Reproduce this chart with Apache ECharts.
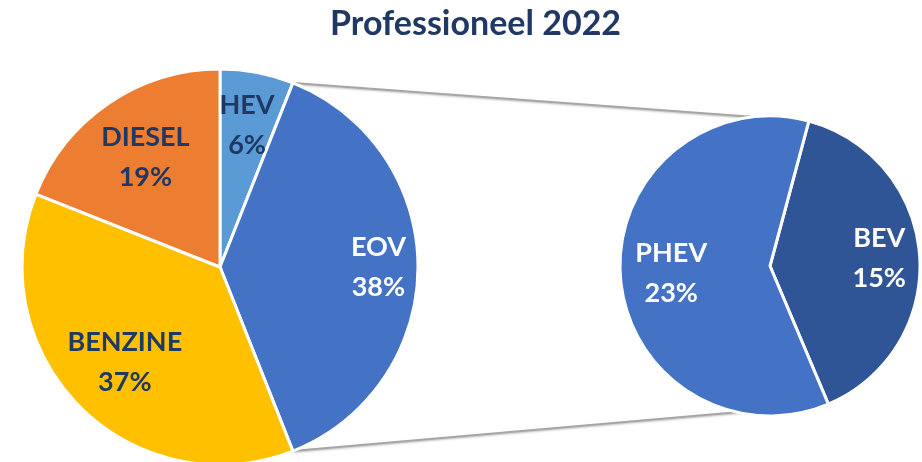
<!DOCTYPE html>
<html><head><meta charset="utf-8">
<script src="https://cdn.jsdelivr.net/npm/echarts@6/dist/echarts.min.js"></script>
<style>html,body{margin:0;padding:0;background:#fff}#c{width:922px;height:462px}</style>
</head><body><div id="c"></div>
<script>
// ---- data ----
const mainCategories = ['HEV', 'EOV', 'BENZINE', 'DIESEL'];
const mainValues = [6, 38, 37, 19];
const subCategories = ['BEV', 'PHEV'];
const subValues = [15, 23];
const titleText = 'Professioneel 2022';

// ---- layout / style ----
const mainColors = ['#5B9BD5', '#4472C4', '#FFC000', '#ED7D31'];
const subColors = ['#2F5597', '#4472C4'];
const mainLabelColors = ['#1F3864', '#FFFFFF', '#1F3864', '#1F3864'];
const subLabelColors = ['#FFFFFF', '#FFFFFF'];
const mainGeo = { cx: 220, cy: 267, r: 198, start: 90, labelR: [0.73, 0.8, 0.68, 0.67] };
const subGeo = { cx: 770, cy: 266, r: 150, start: 75, labelR: [0.73, 0.66] };
const FONT = 'Lato';

function midAngles(values, start) {
  const total = values.reduce((a, b) => a + b, 0);
  let acc = 0;
  return values.map(v => {
    const a0 = acc / total * 360;
    acc += v;
    const a1 = acc / total * 360;
    return { a0: a0 + (90 - start), a1: a1 + (90 - start), mid: (a0 + a1) / 2 + (90 - start) };
  });
}
// angles measured clockwise from north
function pt(geo, deg, f) {
  const rad = deg * Math.PI / 180;
  return [geo.cx + Math.sin(rad) * geo.r * f, geo.cy - Math.cos(rad) * geo.r * f];
}
const mainAng = midAngles(mainValues, mainGeo.start);
const subAng = midAngles(subValues, subGeo.start);

const chart = echarts.init(document.getElementById('c'));

function labelLayoutFor(geo, ang) {
  return function (p) {
    const i = p.dataIndex;
    const q = pt(geo, ang[i].mid, geo.labelR[i]);
    return { x: q[0], y: q[1], align: 'center', verticalAlign: 'middle' };
  };
}

// connector lines: from the EOV slice edges to the BEV/PHEV boundaries
const eov = mainAng[1];
const bev = subAng[0];
const lTop = pt(mainGeo, eov.a0, 1), lBot = pt(mainGeo, eov.a1, 1);
const rTop = pt(subGeo, bev.a0, 1), rBot = pt(subGeo, bev.a1, 1);
const lineStyle = { stroke: '#A6A6A6', lineWidth: 2, shadowColor: 'rgba(0,0,0,0.25)', shadowBlur: 2, shadowOffsetY: 1 };

chart.setOption({
  animation: false,
  title: {
    text: titleText, left: 325, top: 2,
    textStyle: { fontFamily: FONT, fontWeight: 'bold', fontSize: 34, color: '#1F3864' }
  },
  graphic: [
    { type: 'line', z: -1, shape: { x1: lTop[0], y1: lTop[1], x2: rTop[0], y2: rTop[1] }, style: lineStyle },
    { type: 'line', z: -1, shape: { x1: lBot[0], y1: lBot[1], x2: rBot[0], y2: rBot[1] }, style: lineStyle }
  ],
  series: [
    {
      type: 'pie', center: [mainGeo.cx, mainGeo.cy], radius: mainGeo.r,
      startAngle: mainGeo.start, clockwise: true, silent: true,
      itemStyle: { borderColor: '#fff', borderWidth: 3 },
      label: { show: true, position: 'inside', formatter: '{b}\n{c}%',
        fontFamily: FONT, fontWeight: 'bold', fontSize: 27, lineHeight: 40 },
      labelLine: { show: false },
      labelLayout: labelLayoutFor(mainGeo, mainAng),
      data: mainCategories.map((n, i) => ({ name: n, value: mainValues[i],
        itemStyle: { color: mainColors[i] }, label: { color: mainLabelColors[i] } }))
    },
    {
      type: 'pie', center: [subGeo.cx, subGeo.cy], radius: subGeo.r,
      startAngle: subGeo.start, clockwise: true, silent: true,
      itemStyle: { borderColor: '#fff', borderWidth: 3 },
      label: { show: true, position: 'inside', formatter: '{b}\n{c}%',
        fontFamily: FONT, fontWeight: 'bold', fontSize: 27, lineHeight: 40 },
      labelLine: { show: false },
      labelLayout: labelLayoutFor(subGeo, subAng),
      data: subCategories.map((n, i) => ({ name: n, value: subValues[i],
        itemStyle: { color: subColors[i] }, label: { color: subLabelColors[i] } }))
    }
  ]
});
</script></body></html>
